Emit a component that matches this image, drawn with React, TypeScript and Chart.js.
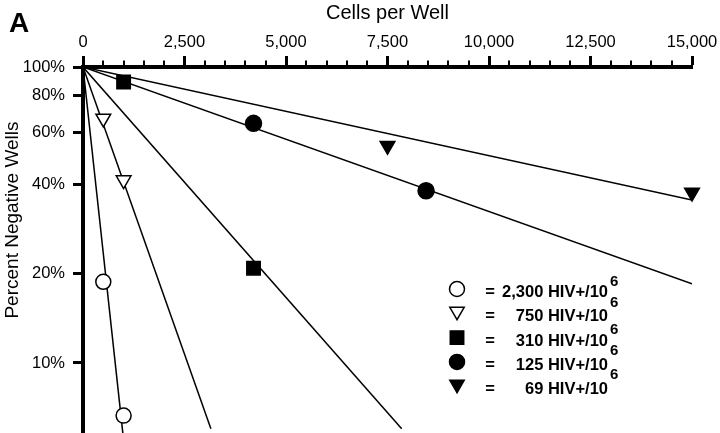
import React, { useEffect, useRef } from 'react';
import { Chart, registerables } from 'chart.js';

Chart.register(...registerables);

const FONT = '"Liberation Sans", Arial, Helvetica, sans-serif';

// ---- texts ----
const panelLabel = 'A';
const xTitle = 'Cells per Well';
const yTitle = 'Percent Negative Wells';
const legendFreqs = ['2,300', '750', '310', '125', '69'];
const legendUnit = 'HIV+/10';
const legendExp = '6';

// ---- axes ----
const xMin = 0;
const xMax = 15000;
const xMinorStep = 500;
const xMajorStep = 2500;
const yMin = 5.8;
const yMax = 100;
const yTickValues = [10, 20, 40, 60, 80, 100];

// ---- measured points (Cells per Well, Percent Negative Wells) ----
const openCircleX = [500, 1000];
const openCircleY = [18.8, 6.64];
const openTriX = [500, 1000];
const openTriY = [67, 41.5];
const squareX = [1000, 4200];
const squareY = [89, 20.9];
const filledCircleX = [4200, 8450];
const filledCircleY = [64.5, 38.2];
const filledTriX = [7500, 15000];
const filledTriY = [54.2, 37.7];

// ---- fitted lines: start and end values ----
const fitStartX = 0;
const fitStartY = 100;
const fitEndX = [1000, 3150, 7850, 15000, 15000];
const fitEndY = [5.49, 6.0, 6.0, 18.5, 35.5];

const seriesX = [openCircleX, openTriX, squareX, filledCircleX, filledTriX];
const seriesY = [openCircleY, openTriY, squareY, filledCircleY, filledTriY];

// ---- styles ----
const markerStyle = ['circle', 'triangle', 'rect', 'circle', 'triangle'];
const markerRotation = [0, 180, 0, 0, 180];
const markerFill = ['#ffffff', '#ffffff', '#000000', '#000000', '#000000'];
const markerRadius = [7.5, 8.5, 9.5, 8, 8.5];

function drawMarker(ctx: CanvasRenderingContext2D, style: string, rot: number, x: number, y: number, r: number, fill: string) {
  ctx.save();
  ctx.beginPath();
  if (style === 'circle') {
    ctx.arc(x, y, r, 0, Math.PI * 2);
  } else if (style === 'rect') {
    const s = r * Math.SQRT1_2;
    ctx.rect(x - s, y - s, 2 * s, 2 * s);
  } else {
    let rad = (rot * Math.PI) / 180;
    for (let k = 0; k < 3; k++) {
      const px = x + Math.sin(rad) * r;
      const py = y - Math.cos(rad) * r;
      if (k === 0) ctx.moveTo(px, py);
      else ctx.lineTo(px, py);
      rad += (2 * Math.PI) / 3;
    }
  }
  ctx.closePath();
  ctx.fillStyle = fill;
  ctx.fill();
  ctx.lineWidth = 1.5;
  ctx.strokeStyle = '#000';
  ctx.stroke();
  ctx.restore();
}

const decorPlugin = {
  id: 'decor',
  afterDraw(chart: any) {
    const ctx: CanvasRenderingContext2D = chart.ctx;
    const xs = chart.scales.x;
    const top = chart.chartArea.top;
    // minor ticks on the top axis
    ctx.save();
    ctx.strokeStyle = '#000';
    ctx.lineWidth = 2;
    xs.ticks.forEach((t: any) => {
      if (t.value % xMajorStep !== 0) {
        const px = Math.round(xs.getPixelForValue(t.value));
        ctx.beginPath();
        ctx.moveTo(px, top);
        ctx.lineTo(px, top - 6.5);
        ctx.stroke();
      }
    });
    ctx.restore();

    // panel label
    ctx.save();
    ctx.fillStyle = '#000';
    ctx.font = `bold 28px ${FONT}`;
    ctx.textAlign = 'left';
    ctx.textBaseline = 'alphabetic';
    ctx.fillText(panelLabel, 9, 32);
    ctx.restore();

    // y title
    ctx.save();
    ctx.fillStyle = '#000';
    ctx.font = `19px ${FONT}`;
    ctx.textAlign = 'center';
    ctx.textBaseline = 'middle';
    ctx.translate(13, 220);
    ctx.rotate(-Math.PI / 2);
    ctx.fillText(yTitle, 0, 0);
    ctx.restore();

    // legend
    const rowY0 = 292.5;
    const rowStep = 24.3;
    const expOffset = [-11, -14, -11, -15, -15];
    legendFreqs.forEach((f, i) => {
      const y = rowY0 + i * rowStep;
      const bboxY = y - 3.5;
      const r = markerStyle[i] === 'rect' ? 9.5 : 7.5;
      const cy = markerStyle[i] === 'triangle' ? bboxY - r / 4 : bboxY;
      drawMarker(ctx, markerStyle[i], markerRotation[i], 457, cy, markerStyle[i] === 'triangle' ? 8.3 : r, markerFill[i]);
      ctx.save();
      ctx.fillStyle = '#000';
      ctx.font = `bold 16.5px ${FONT}`;
      ctx.textBaseline = 'middle';
      ctx.textAlign = 'center';
      ctx.fillText('=', 490, y);
      ctx.textAlign = 'right';
      ctx.fillText(`${f} ${legendUnit}`, 608, y);
      ctx.textAlign = 'left';
      ctx.font = `bold 15px ${FONT}`;
      ctx.fillText(legendExp, 610, y + expOffset[i]);
      ctx.restore();
    });
  },
};

export default function App() {
  const canvasRef = useRef<HTMLCanvasElement | null>(null);

  useEffect(() => {
    const canvas = canvasRef.current;
    if (!canvas) return;

    const pointSets = seriesX.map((xs, i) => ({
      data: xs.map((x, j) => ({ x, y: seriesY[i][j] })),
      showLine: false,
      clip: false,
      pointStyle: markerStyle[i],
      pointRotation: markerRotation[i],
      pointRadius: markerRadius[i],
      pointHoverRadius: markerRadius[i],
      pointBackgroundColor: markerFill[i],
      pointBorderColor: '#000',
      pointBorderWidth: 1.5,
      order: 0,
    }));
    const lineSets = fitEndX.map((ex, i) => ({
      data: [
        { x: fitStartX, y: fitStartY },
        { x: ex, y: fitEndY[i] },
      ],
      showLine: true,
      borderColor: '#000',
      borderWidth: 1.5,
      pointRadius: 0,
      fill: false,
      order: 1,
    }));

    const chart = new Chart(canvas, {
      type: 'scatter',
      data: { datasets: [...pointSets, ...lineSets] as any },
      options: {
        animation: false,
        responsive: false,
        devicePixelRatio: 1,
        layout: { padding: { left: 0, right: 28, top: 0, bottom: 0 }, autoPadding: false },
        plugins: { legend: { display: false }, tooltip: { enabled: false } },
        scales: {
          x: {
            type: 'linear',
            position: 'top',
            min: xMin,
            max: xMax,
            afterFit(scale: any) {
              scale.height = 67;
              scale.paddingLeft = 0;
              scale.paddingRight = 0;
            },
            ticks: {
              stepSize: xMinorStep,
              autoSkip: false,
              maxRotation: 0,
              padding: 4,
              color: '#000',
              font: { family: FONT, size: 16.5 },
              callback: (v: any) => (Number(v) % xMajorStep === 0 ? Number(v).toLocaleString('en-US') : ''),
            },
            grid: {
              drawOnChartArea: false,
              drawTicks: true,
              tickLength: 11,
              tickWidth: 3,
              tickColor: (c: any) => (c.tick && c.tick.value % xMajorStep === 0 ? '#000' : 'rgba(0,0,0,0)'),
            },
            border: { display: true, width: 4, color: '#000' },
            title: {
              display: true,
              text: xTitle,
              color: '#000',
              font: { family: FONT, size: 20 },
              padding: { top: 1, bottom: 0 },
            },
          },
          y: {
            type: 'logarithmic',
            position: 'left',
            min: yMin,
            max: yMax,
            afterFit(scale: any) {
              scale.width = 83;
              scale.paddingTop = 0;
              scale.paddingBottom = 0;
            },
            afterBuildTicks(scale: any) {
              scale.ticks = yTickValues.map((v) => ({ value: v }));
            },
            ticks: {
              autoSkip: false,
              padding: 8,
              color: '#000',
              font: { family: FONT, size: 16.5 },
              callback: (v: any) => `${v}%`,
            },
            grid: {
              drawOnChartArea: false,
              drawTicks: true,
              tickLength: 10,
              tickWidth: 3,
              tickColor: '#000',
            },
            border: { display: true, width: 4, color: '#000' },
          },
        },
      } as any,
      plugins: [decorPlugin],
    });

    return () => chart.destroy();
  }, []);

  return (
    <div style={{ position: 'fixed', left: 0, top: 0, width: 720, height: 433, background: '#fff' }}>
      <canvas ref={canvasRef} width={720} height={433} style={{ width: 720, height: 433, display: 'block' }} />
    </div>
  );
}
